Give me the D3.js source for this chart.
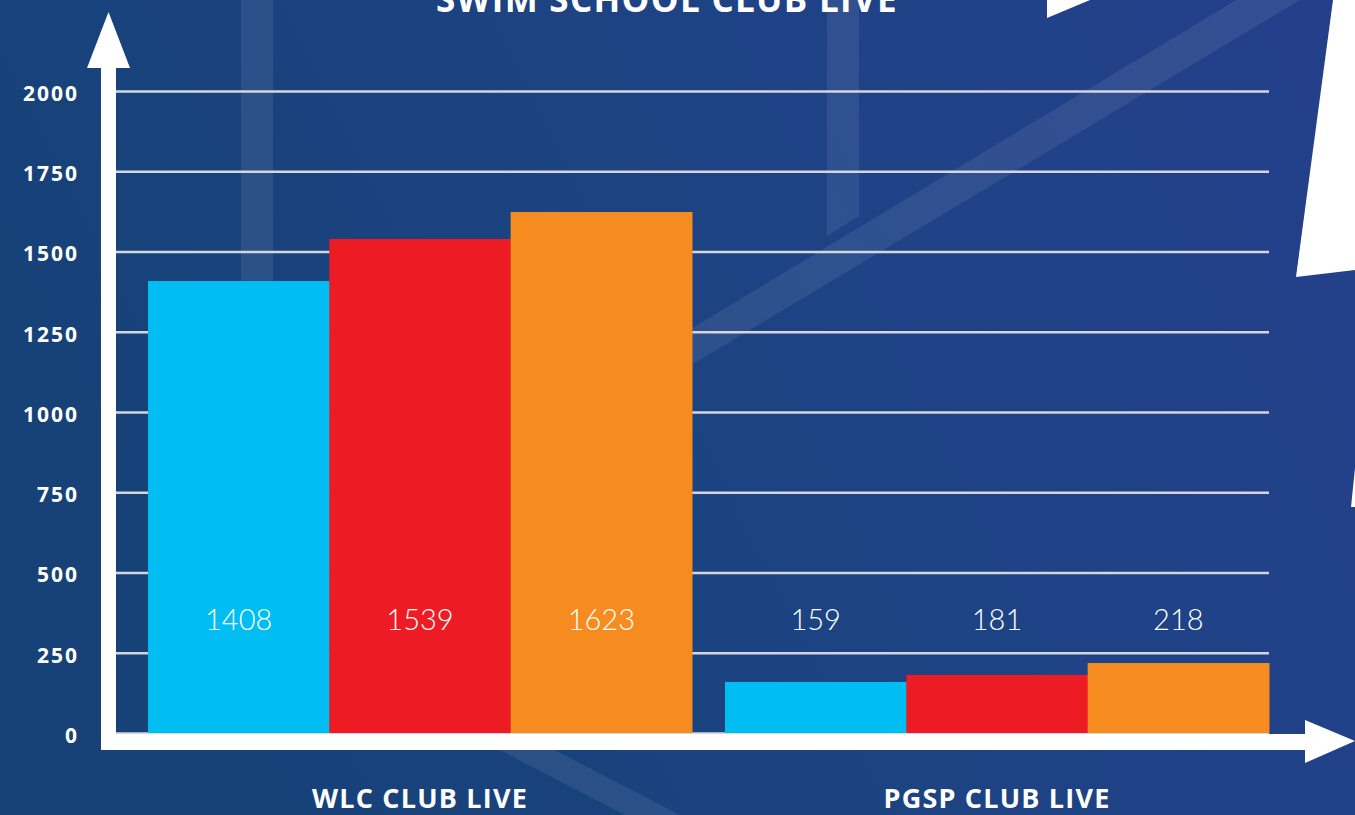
<!DOCTYPE html>
<html><head><meta charset="utf-8">
<script src="https://cdn.jsdelivr.net/npm/d3@7"></script>
<style>html,body{margin:0;padding:0;background:#1a4279;overflow:hidden}</style>
</head><body>
<svg id="c" width="1355" height="815"></svg>
<script>
const categories = ["WLC CLUB LIVE", "PGSP CLUB LIVE"];
const seriesNames = ["s1", "s2", "s3"];
const series1 = [1408, 159];
const series2 = [1539, 181];
const series3 = [1623, 218];
const seriesColors = ["#00bdf2", "#ed1c24", "#f68b1f"];
const yTicks = [0, 250, 500, 750, 1000, 1250, 1500, 1750, 2000];
const title = "SWIM SCHOOL CLUB LIVE";

const svg = d3.select("#c");
const defs = svg.append("defs");
const g1 = defs.append("linearGradient").attr("id","bg").attr("x1","0").attr("y1","0.3").attr("x2","1").attr("y2","0");
g1.append("stop").attr("offset","0").attr("stop-color","#164278");
g1.append("stop").attr("offset","0.55").attr("stop-color","#1e4385");
g1.append("stop").attr("offset","1").attr("stop-color","#243f8b");
svg.append("rect").attr("width",1355).attr("height",815).attr("fill","url(#bg)");

// decorative translucent stripes
const deco = svg.append("g").attr("fill","rgba(255,255,255,0.08)");
deco.append("polygon").attr("points","241,0 273,0 273,700 241,700");
deco.append("polygon").attr("points","827,0 859,0 859,216 827,236");
deco.append("polygon").attr("points","1236,0 1300,0 600,420 540,420");
deco.append("polygon").attr("points","490,745 545,745 680,815 625,815");

// white shapes at right
svg.append("polygon").attr("points","1333,0 1355,0 1355,270 1296,277").attr("fill","#fff");
svg.append("polygon").attr("points","1047,0 1090,0 1047,18").attr("fill","#fff");
svg.append("polygon").attr("points","1355,468 1351,507 1355,507").attr("fill","#fff");

const y = d3.scaleLinear().domain([0, 2000]).range([733, 91]);
const x0 = d3.scaleBand().domain(categories).range([148, 1269]).paddingInner(0.0572).paddingOuter(0);
const x1 = d3.scaleBand().domain(seriesNames).range([0, x0.bandwidth()]).padding(0);
const data = categories.map((c, i) => ({cat: c, vals: [series1[i], series2[i], series3[i]]}));

// grid + y labels
const yAxis = d3.axisLeft(y).tickValues(yTicks).tickFormat(d3.format("d"))
  .tickSize(-(1269 - 116)).tickPadding(37);
const ya = svg.append("g").attr("transform","translate(116,0)").call(yAxis);
ya.select(".domain").remove();
ya.selectAll(".tick line").attr("stroke","#d3d6de").attr("stroke-width",2.5);
ya.selectAll(".tick text").attr("fill","#fff").attr("font-family","'Open Sans', sans-serif")
  .attr("font-weight",700).attr("font-size","21px").attr("letter-spacing","2px")
  .attr("dy","0.45em").attr("text-anchor","end");

// bars
const groups = svg.append("g").selectAll("g").data(data).join("g")
  .attr("transform", d => `translate(${x0(d.cat)},0)`);
groups.selectAll("rect").data(d => d.vals.map((v, k) => ({k, v}))).join("rect")
  .attr("x", d => x1(seriesNames[d.k])).attr("width", x1.bandwidth() + 0.5)
  .attr("y", d => y(d.v)).attr("height", d => y(0) - y(d.v))
  .attr("fill", d => seriesColors[d.k]);
groups.selectAll("text").data(d => d.vals.map((v, k) => ({k, v}))).join("text")
  .attr("x", d => x1(seriesNames[d.k]) + x1.bandwidth() / 2).attr("y", 630)
  .attr("text-anchor","middle").attr("fill","#fff")
  .attr("font-family","Lato, sans-serif").attr("font-weight",300).attr("font-size","29px")
  .text(d => d.v);

// axes (white arrows)
const axesG = svg.append("g").attr("fill","#fff");
axesG.append("rect").attr("x",101).attr("y",60).attr("width",15).attr("height",690);
axesG.append("polygon").attr("points","108.5,12 130,68 87,68");
axesG.append("rect").attr("x",101).attr("y",734).attr("width",1215).attr("height",16);
axesG.append("polygon").attr("points","1305,720 1355,741 1305,763");

// category labels
const xAxis = d3.axisBottom(x0).tickSize(0).tickPadding(0);
const xa = svg.append("g").attr("transform","translate(0,750)").call(xAxis);
xa.select(".domain").remove();
xa.selectAll(".tick text").attr("fill","#fff").attr("font-family","'Open Sans', sans-serif")
  .attr("font-weight",700).attr("font-size","27px").attr("letter-spacing","1.2px")
  .attr("y",58).attr("dy",0).attr("text-anchor","middle");

// title
svg.append("text").attr("x",667).attr("y",12).attr("text-anchor","middle")
  .attr("fill","#fff").attr("font-family","'Open Sans', sans-serif").attr("font-weight",700)
  .attr("font-size","35px").attr("letter-spacing","1.3px").text(title);
</script>
</body></html>
